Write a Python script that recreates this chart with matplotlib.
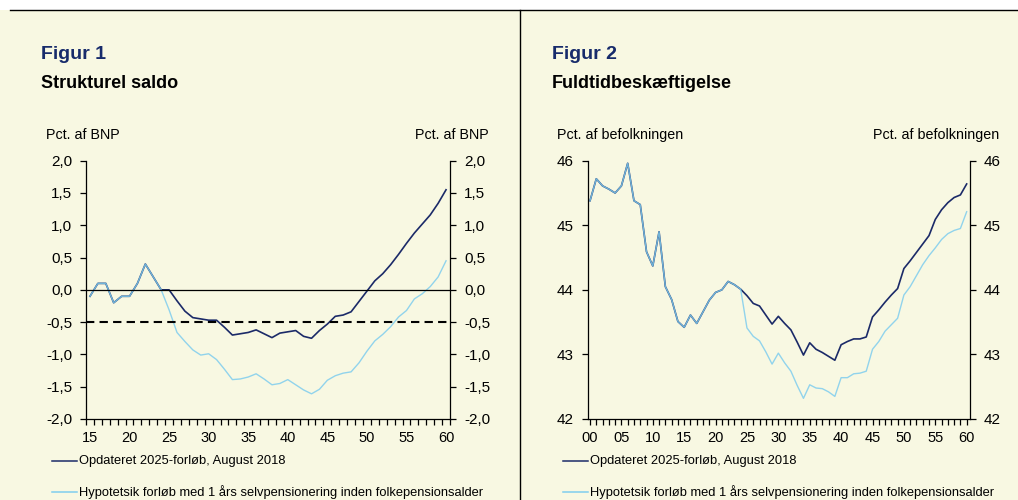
import numpy as np
import matplotlib
matplotlib.use("Agg")
import matplotlib.pyplot as plt
from matplotlib.lines import Line2D
from matplotlib.ticker import FuncFormatter

plt.rcParams['font.family'] = ['Liberation Sans', 'DejaVu Sans']

# Figur 1: strukturel saldo, pct. af BNP (2015-2060)
aar1 = np.arange(15, 61)
saldo_opd = [-0.1, 0.1, 0.1, -0.2, -0.1, -0.1, 0.1, 0.4, 0.2, 0.0,
             0.0, -0.17, -0.33, -0.43, -0.45, -0.47, -0.47, -0.58, -0.70, -0.68,
             -0.66, -0.62, -0.68, -0.74, -0.67, -0.65, -0.63, -0.72, -0.75, -0.63,
             -0.53, -0.41, -0.39, -0.34, -0.18, -0.02, 0.14, 0.25, 0.39, 0.55,
             0.72, 0.88, 1.02, 1.16, 1.34, 1.55]
saldo_hyp = [-0.1, 0.1, 0.1, -0.2, -0.1, -0.1, 0.1, 0.4, 0.2, 0.0,
             -0.31, -0.66, -0.80, -0.93, -1.01, -0.99, -1.08, -1.23, -1.39, -1.38,
             -1.35, -1.30, -1.38, -1.47, -1.45, -1.39, -1.47, -1.55, -1.61, -1.54,
             -1.40, -1.33, -1.29, -1.27, -1.13, -0.95, -0.79, -0.69, -0.57, -0.42,
             -0.32, -0.14, -0.06, 0.05, 0.20, 0.45]

# Figur 2: fuldtidsbeskaeftigelse, pct. af befolkningen (2000-2060)
aar2 = np.arange(0, 61)
faelles = [45.38, 45.72, 45.61, 45.56, 45.50, 45.61, 45.96, 45.38, 45.32, 44.59,
           44.37, 44.90, 44.05, 43.85, 43.51, 43.42, 43.61, 43.48, 43.66, 43.84,
           43.96, 44.00, 44.13, 44.08, 44.01]
beskaef_opd = faelles + [
    43.91, 43.79, 43.75, 43.61, 43.47, 43.59, 43.48, 43.38, 43.19, 42.99,
    43.18, 43.08, 43.03, 42.97, 42.91, 43.15, 43.20, 43.24, 43.24, 43.27,
    43.58, 43.69, 43.81, 43.92, 44.02, 44.33, 44.45, 44.58, 44.71, 44.84,
    45.09, 45.24, 45.35, 45.43, 45.47, 45.64]
beskaef_hyp = faelles + [
    43.41, 43.28, 43.21, 43.04, 42.85, 43.02, 42.87, 42.74, 42.52, 42.32,
    42.53, 42.48, 42.47, 42.42, 42.35, 42.64, 42.64, 42.70, 42.71, 42.74,
    43.08, 43.20, 43.36, 43.46, 43.56, 43.92, 44.05, 44.22, 44.39, 44.53,
    44.65, 44.78, 44.87, 44.92, 44.95, 45.21]

labels = ["Opdateret 2025-forløb, August 2018",
          "Hypotetsik forløb med 1 års selvpensionering inden folkepensionsalder"]

MORK = '#1b2a68'
LYS = '#7fcdee'
BG = '#f8f8e2'
W, H = 1018, 500

fig = plt.figure(figsize=(W / 100, H / 100), dpi=100, facecolor=BG)

# hvid stribe over toplinjen, toplinje og lodret skillelinje
fig.add_artist(plt.Rectangle((0, 1 - 10 / H), 1, 10 / H, transform=fig.transFigure,
                             facecolor='white', edgecolor='none'))
fig.add_artist(Line2D([10 / W, 1], [1 - 10 / H] * 2, color='black', lw=1))
fig.add_artist(Line2D([520 / W] * 2, [0, 1 - 10 / H], color='black', lw=1))


def px_axes(x0, x1, y0, y1):
    return fig.add_axes([x0 / W, 1 - y1 / H, (x1 - x0) / W, (y1 - y0) / H])


def style(ax):
    ax.set_facecolor('none')
    ax.spines['top'].set_visible(False)
    for s in ['left', 'right', 'bottom']:
        ax.spines[s].set_linewidth(0.9)
    ax.tick_params(axis='y', which='both', direction='out', length=4, width=0.9,
                   left=True, right=True, labelleft=True, labelright=True,
                   labelsize=11, pad=6)
    ax.tick_params(axis='x', which='major', direction='out', length=4, width=0.9,
                   labelsize=10.5, pad=5)


# ---- Figur 1 ----
ax1 = px_axes(86, 450, 160.7, 419)
style(ax1)
ax1.plot(aar1, saldo_opd, color=MORK, lw=1.2)
ax1.plot(aar1, saldo_hyp, color=LYS, lw=1.0, alpha=0.85)
ax1.axhline(0, color='black', lw=0.9)
ax1.axhline(-0.5, color='black', lw=1.5, ls=(0, (4, 2.5)))
ax1.set_ylim(-2, 2)
ax1.set_yticks(np.arange(-2, 2.01, 0.5))
ax1.yaxis.set_major_formatter(FuncFormatter(lambda v, p: f"{v:.1f}".replace('.', ',')))
ax1.set_xlim(14.5, 60.5)
ax1.set_xticks(np.arange(14.5, 61, 1))
ax1.set_xticklabels([])
ax1.set_xticks(np.arange(15, 61, 5), minor=True)
ax1.set_xticklabels([str(v) for v in range(15, 61, 5)], minor=True)
ax1.tick_params(axis='x', which='minor', length=0, labelsize=10.5, pad=9)

# ---- Figur 2 ----
ax2 = px_axes(587.7, 970, 160.7, 419)
style(ax2)
ax2.plot(aar2, beskaef_opd, color=MORK, lw=1.2)
ax2.plot(aar2, beskaef_hyp, color=LYS, lw=1.0, alpha=0.85)
ax2.set_ylim(42, 46)
ax2.set_yticks(np.arange(42, 46.5, 1))
ax2.set_xlim(-0.37, 60.53)
ax2.set_xticks(aar2)
ax2.set_xticklabels([f"{v:02d}" if v % 5 == 0 else '' for v in aar2])
ax2.tick_params(axis='x', which='major', pad=5)

# titler og enhedstekster
navy = '#172b6b'
fig.text(41 / W, 1 - 59 / H, "Figur 1", fontsize=14, fontweight='bold', color=navy)
fig.text(41 / W, 1 - 88 / H, "Strukturel saldo", fontsize=13, fontweight='bold')
fig.text(46 / W, 1 - 139 / H, "Pct. af BNP", fontsize=10.3)
fig.text(489 / W, 1 - 139 / H, "Pct. af BNP", fontsize=10.3, ha='right')

fig.text(552 / W, 1 - 59 / H, "Figur 2", fontsize=14, fontweight='bold', color=navy)
fig.text(552 / W, 1 - 88 / H, "Fuldtidbeskæftigelse", fontsize=13, fontweight='bold')
fig.text(557 / W, 1 - 139 / H, "Pct. af befolkningen", fontsize=10.3)
fig.text(999 / W, 1 - 139 / H, "Pct. af befolkningen", fontsize=10.3, ha='right')

# signaturforklaringer
for x0 in (52, 563):
    for lab, col, y in zip(labels, [MORK, LYS], [460.7, 491.7]):
        fig.add_artist(Line2D([x0 / W, (x0 + 25) / W], [1 - y / H] * 2, color=col, lw=1.1))
        fig.text((x0 + 27) / W, 1 - y / H, lab, fontsize=9.3, va='center')

fig.savefig("out.png", dpi=100, facecolor=BG)
